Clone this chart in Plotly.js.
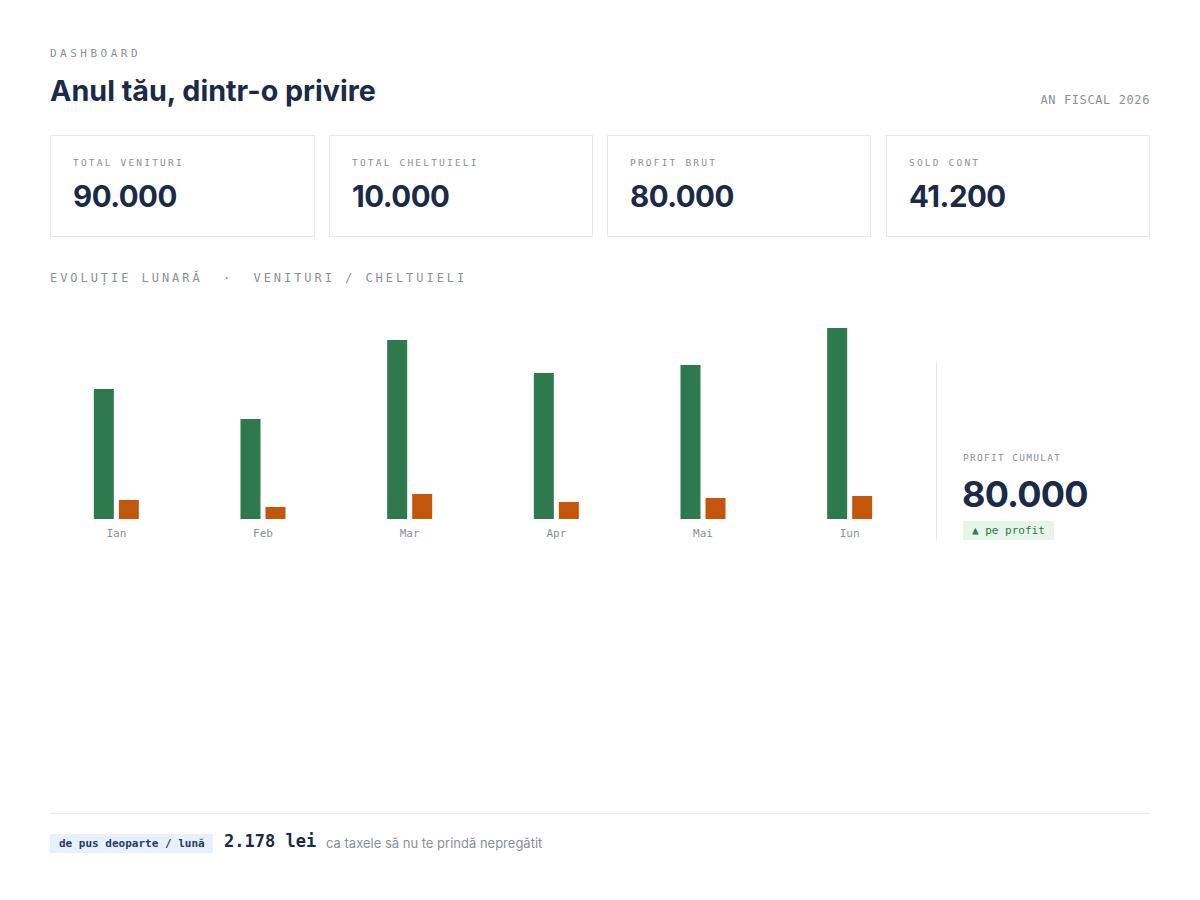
<!DOCTYPE html>
<html lang="ro">
<head>
<meta charset="utf-8">
<title>Anul tău, dintr-o privire</title>
<script src="https://cdn.plot.ly/plotly-3.0.1.min.js"></script>
<style>
  html, body { margin: 0; padding: 0; background: #ffffff; }
  body { width: 1200px; height: 900px; position: relative; overflow: hidden;
         font-family: "Inter", "Noto Sans", sans-serif; color: #1b2a47; }
  .mono { font-family: "DejaVu Sans Mono", "Liberation Mono", monospace; }
  .abs { position: absolute; white-space: nowrap; }
  .eyebrow { left: 50px; top: 47px; font-size: 11px; letter-spacing: 3.5px; color: #8a8f98; }
  .title { left: 50px; top: 73px; font-size: 28.7px; font-weight: 700; letter-spacing: 0px; color: #1b2a47; }
  .fiscal { right: 50px; top: 93px; font-size: 12px; letter-spacing: 0.6px; color: #8a8f98; }
  .card { position: absolute; top: 135px; height: 102px; border: 1px solid #e6e8eb; box-sizing: border-box; }
  .card .lbl { position: absolute; left: 22px; top: 21px; font-size: 9.5px; letter-spacing: 2.2px; color: #8a8f98; }
  .card .val { position: absolute; left: 22px; top: 42px; font-size: 29.5px; font-weight: 700; letter-spacing: -0.5px; color: #1b2a47; }
  .section { left: 50px; top: 271px; font-size: 12px; letter-spacing: 2.95px; color: #8a8f98; }
  #chart { position: absolute; left: 43px; top: 300px; width: 880px; height: 260px; }
  .divider { position: absolute; left: 936px; top: 361px; width: 1px; height: 180px; background: #e6e8eb; }
  .pc-lbl { left: 963px; top: 452px; font-size: 9.5px; letter-spacing: 1.3px; color: #8a8f98; }
  .pc-val { left: 962px; top: 472px; font-size: 36px; font-weight: 700; letter-spacing: -0.8px; color: #1b2a47; }
  .pc-badge { left: 963px; top: 521px; height: 19px; line-height: 19px; padding: 0 9px 0 9px;
              background: #e6f4ea; color: #2e7a4e; font-size: 11px; }
  .rule { position: absolute; left: 50px; top: 813px; width: 1100px; height: 1px; background: #eceef1; }
  .tag { left: 50px; top: 834px; height: 19px; line-height: 19px; padding: 0 8px 0 9px;
         background: #e8f0fb; color: #1e3a6e; font-size: 11px; font-weight: 700; }
  .amount { left: 224px; top: 831px; font-size: 17px; font-weight: 700; color: #1b2a47; }
  .note { left: 326px; top: 835px; font-size: 13px; color: #8a8f98; }
</style>
</head>
<body>

<div class="abs mono eyebrow">DASHBOARD</div>
<div class="abs title">Anul tău, dintr-o privire</div>
<div class="abs mono fiscal">AN FISCAL 2026</div>

<div id="cards"></div>

<div class="abs mono section">EVOLUȚIE LUNARĂ &nbsp;·&nbsp; VENITURI / CHELTUIELI</div>

<div id="chart"></div>

<div class="divider"></div>
<div class="abs mono pc-lbl">PROFIT CUMULAT</div>
<div class="abs pc-val" id="pcVal"></div>
<div class="abs mono pc-badge">▲ pe profit</div>

<div class="rule"></div>
<div class="abs mono tag">de pus deoparte / lună</div>
<div class="abs mono amount">2.178 lei</div>
<div class="abs note">ca taxele să nu te prindă nepregătit</div>

<script>
// Monthly figures (lei)
const months = ['Ian', 'Feb', 'Mar', 'Apr', 'Mai', 'Iun'];
const venituri = [13000, 10000, 17900, 14600, 15400, 19100];
const cheltuieli = [1900, 1200, 2500, 1700, 2100, 2300];

// Summary cards
const cardLabels = ['TOTAL VENITURI', 'TOTAL CHELTUIELI', 'PROFIT BRUT', 'SOLD CONT'];
const cardValues = [90000, 10000, 80000, 41200];
const profitCumulat = 80000;

const fmt = v => v.toLocaleString('de-DE');

const cardLefts = [50, 329, 607, 886];
const cardWidths = [265, 264, 264, 264];
const cardsEl = document.getElementById('cards');
cardLabels.forEach((lbl, i) => {
  const c = document.createElement('div');
  c.className = 'card';
  c.style.left = cardLefts[i] + 'px';
  c.style.width = cardWidths[i] + 'px';
  c.innerHTML = '<div class="lbl mono">' + lbl + '</div><div class="val">' + fmt(cardValues[i]) + '</div>';
  cardsEl.appendChild(c);
});
document.getElementById('pcVal').textContent = fmt(profitCumulat);

const data = [
  { type: 'bar', name: 'Venituri', x: months, y: venituri,
    marker: { color: '#2e7a4e' }, hoverinfo: 'none' },
  { type: 'bar', name: 'Cheltuieli', x: months, y: cheltuieli,
    marker: { color: '#c2570c' }, hoverinfo: 'none' }
];

const layout = {
  width: 880, height: 260,
  margin: { l: 0, r: 0, t: 19, b: 41, pad: 0 },
  paper_bgcolor: 'rgba(0,0,0,0)', plot_bgcolor: 'rgba(0,0,0,0)',
  barmode: 'group', bargap: 0.659, bargroupgap: 0.2,
  showlegend: false,
  xaxis: {
    showgrid: false, zeroline: false, showline: false,
    ticks: 'outside', ticklen: 4, tickcolor: 'rgba(0,0,0,0)',
    tickfont: { family: 'DejaVu Sans Mono, monospace', size: 11, color: '#8a8f98' }
  },
  yaxis: { range: [0, 20000], visible: false, showgrid: false, zeroline: false }
};

Plotly.newPlot('chart', data, layout, { displayModeBar: false, staticPlot: true });
</script>
</body>
</html>
